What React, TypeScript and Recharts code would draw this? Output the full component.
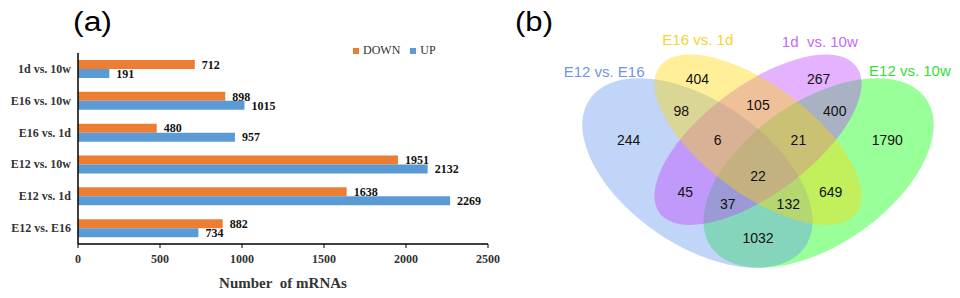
import React from 'react';
import { BarChart, Bar, XAxis, YAxis, LabelList, Legend, ScatterChart, Scatter } from 'recharts';

// ---------- data: panel (a) ----------
const categories = ['1d vs. 10w', 'E16 vs. 10w', 'E16 vs. 1d', 'E12 vs. 10w', 'E12 vs. 1d', 'E12 vs. E16'];
const downValues = [712, 898, 480, 1951, 1638, 882];
const upValues = [191, 1015, 957, 2132, 2269, 734];
const xTicks = [0, 500, 1000, 1500, 2000, 2500];
const seriesNames = ['DOWN', 'UP'];

// ---------- data: panel (b) ----------
// sets: A = E12 vs. E16, B = E16 vs. 1d, C = 1d vs. 10w, D = E12 vs. 10w
const vennSetNames = ['E12 vs. E16', 'E16 vs. 1d', '1d\u00a0 vs. 10w', 'E12 vs. 10w'];
const vennRegionKeys = ['1000', '0100', '0010', '0001', '1100', '0110', '0011', '1001', '1010', '0101', '1110', '0111', '1011', '1101', '1111'];
const vennRegionCounts = [244, 404, 267, 1790, 98, 105, 400, 1032, 45, 649, 6, 21, 37, 132, 22];

// ---------- layout / style (not data) ----------
const SERIF = "'Liberation Serif', 'Times New Roman', serif";
const SANS = "'Liberation Sans', Arial, Helvetica, sans-serif";
const ORANGE = '#ED7D31';
const BLUE = '#5B9BD5';

const barData = categories.map((name, i) => ({ name, down: downValues[i], up: upValues[i] }));

// venn chart geometry
const V_W = 460;
const V_H = 298;
const V_M = { top: 30, right: 0, bottom: 2, left: 56 };
const U_DOM: [number, number] = [0, 1];
const V_DOM: [number, number] = [0.1, 0.9];
const SX = (V_W - V_M.left - V_M.right) / (U_DOM[1] - U_DOM[0]);
const SY = (V_H - V_M.top - V_M.bottom) / (V_DOM[1] - V_DOM[0]);

// ellipse layout (unit space, y up), drawn in this order
const ellipseLayout = [
  { set: 3, u: 0.65, v: 0.47, a: 0.35, b: 0.2, rot: 45, color: '#00FF00' },
  { set: 0, u: 0.35, v: 0.47, a: 0.35, b: 0.2, rot: 135, color: '#6495ED' },
  { set: 2, u: 0.5, v: 0.57, a: 0.33, b: 0.15, rot: 45, color: '#BF3EFF' },
  { set: 1, u: 0.5, v: 0.57, a: 0.33, b: 0.15, rot: 135, color: '#FFD700' },
];

const regionLabelPos: Record<string, [number, number]> = {
  '1000': [0.18, 0.57],
  '0100': [0.35, 0.753],
  '0010': [0.65, 0.753],
  '0001': [0.82, 0.57],
  '1100': [0.31, 0.657],
  '0110': [0.5, 0.675],
  '0011': [0.69, 0.657],
  '1001': [0.5, 0.274],
  '1010': [0.32, 0.412],
  '0101': [0.68, 0.412],
  '1110': [0.4, 0.57],
  '0111': [0.6, 0.57],
  '1011': [0.425, 0.376],
  '1101': [0.575, 0.376],
  '1111': [0.5, 0.461],
};

const setLabelLayout = [
  { u: 0.119, v: 0.774, color: '#6E96E6' },
  { u: 0.351, v: 0.87, color: '#F2D535' },
  { u: 0.653, v: 0.864, color: '#C36BF5' },
  { u: 0.876, v: 0.777, color: '#35E035' },
];

const ellipseData = ellipseLayout.map((e) => ({ ...e, name: vennSetNames[e.set] }));
const regionData = vennRegionKeys.map((k, i) => ({ u: regionLabelPos[k][0], v: regionLabelPos[k][1], count: vennRegionCounts[i] }));
const setLabelData = vennSetNames.map((name, i) => ({ ...setLabelLayout[i], name }));

const EllipseShape = (p: any) => {
  const e = p.payload;
  return (
    <ellipse
      cx={0}
      cy={0}
      rx={e.a}
      ry={e.b}
      fill={e.color}
      fillOpacity={0.4}
      transform={`translate(${p.cx},${p.cy}) scale(${SX},${SY}) rotate(${-e.rot})`}
    />
  );
};

const CountShape = (p: any) => (
  <text x={p.cx} y={p.cy + 5} textAnchor="middle" fontSize={14} fontFamily={SANS} fill="#111">
    {p.payload.count}
  </text>
);

const SetLabelShape = (p: any) => (
  <text x={p.cx} y={p.cy + 5} textAnchor="middle" fontSize={15} fontFamily={SANS} fill={p.payload.color}>
    {p.payload.name}
  </text>
);

const tickFont = { fontSize: 12, fontWeight: 'bold', fill: '#333', fontFamily: SERIF };

const CategoryTick = (p: any) => (
  <text x={p.x} y={p.y + 4} textAnchor="end" fontSize={12} fontWeight="bold" fill="#333" fontFamily={SERIF}>
    {p.payload.value}
  </text>
);

function BarPanel() {
  return (
    <BarChart
      width={500}
      height={298}
      data={barData}
      layout="vertical"
      margin={{ top: 53, right: 12, bottom: 0, left: 0 }}
      barGap={0}
    >
      <YAxis
        yAxisId="bounds"
        type="number"
        domain={[0, 6]}
        ticks={[0, 1, 2, 3, 4, 5, 6]}
        interval={0}
        width={0}
        axisLine={false}
        tickSize={5}
        tickLine={{ stroke: '#000' }}
        tick={() => <g />}
      />
      <YAxis
        type="category"
        dataKey="name"
        width={78}
        interval={0}
        tickSize={0}
        tickMargin={7}
        tickLine={false}
        axisLine={{ stroke: '#000', strokeWidth: 1.5 }}
        tick={CategoryTick}
      />
      <XAxis
        type="number"
        domain={[0, 2500]}
        ticks={xTicks}
        interval={0}
        height={54}
        tickSize={4}
        tickMargin={6}
        axisLine={{ stroke: '#000', strokeWidth: 1.5 }}
        tickLine={{ stroke: '#000' }}
        tick={tickFont}
        label={{
          value: 'Number\u00a0 of mRNAs',
          position: 'insideBottom',
          offset: 10,
          fontSize: 15,
          fontWeight: 'bold',
          fill: '#333',
          fontFamily: SERIF,
        }}
      />
      <Legend
        layout="horizontal"
        verticalAlign="middle"
        align="center"
        iconType="square"
        iconSize={6}
        wrapperStyle={{ top: 43, left: 353, width: 'auto', fontFamily: SERIF, fontSize: 12, lineHeight: '14px' }}
        formatter={(v: any) => <span style={{ color: '#333' }}>{v}</span>}
      />
      <Bar dataKey="down" name={seriesNames[0]} fill={ORANGE} barSize={9} isAnimationActive={false}>
        <LabelList dataKey="down" position="right" offset={7} fill="#111" fontSize={12} fontWeight="bold" fontFamily={SERIF} />
      </Bar>
      <Bar dataKey="up" name={seriesNames[1]} fill={BLUE} barSize={9} isAnimationActive={false}>
        <LabelList dataKey="up" position="right" offset={7} fill="#111" fontSize={12} fontWeight="bold" fontFamily={SERIF} />
      </Bar>
    </BarChart>
  );
}

function VennPanel() {
  return (
    <ScatterChart width={V_W} height={V_H} margin={V_M}>
      <XAxis type="number" dataKey="u" domain={U_DOM} allowDataOverflow hide />
      <YAxis type="number" dataKey="v" domain={V_DOM} allowDataOverflow hide />
      <Scatter data={ellipseData} shape={EllipseShape} isAnimationActive={false} />
      <Scatter data={regionData} shape={CountShape} isAnimationActive={false} />
      <Scatter data={setLabelData} shape={SetLabelShape} isAnimationActive={false} />
    </ScatterChart>
  );
}

export default function App() {
  return (
    <div style={{ position: 'absolute', left: 0, top: 0, width: 960, height: 298, background: '#fff', overflow: 'hidden' }}>
      <div style={{ position: 'absolute', left: 0, top: 0 }}>
        <BarPanel />
      </div>
      <div style={{ position: 'absolute', left: 500, top: 0 }}>
        <VennPanel />
      </div>
      <svg width={960} height={298} style={{ position: 'absolute', left: 0, top: 0, pointerEvents: 'none' }}>
        <text x={73} y={31} fontSize={27} fontFamily={SANS} fill="#000" textLength={39} lengthAdjust="spacingAndGlyphs">
          (a)
        </text>
        <text x={515} y={31} fontSize={27} fontFamily={SANS} fill="#000" textLength={38} lengthAdjust="spacingAndGlyphs">
          (b)
        </text>
      </svg>
    </div>
  );
}
